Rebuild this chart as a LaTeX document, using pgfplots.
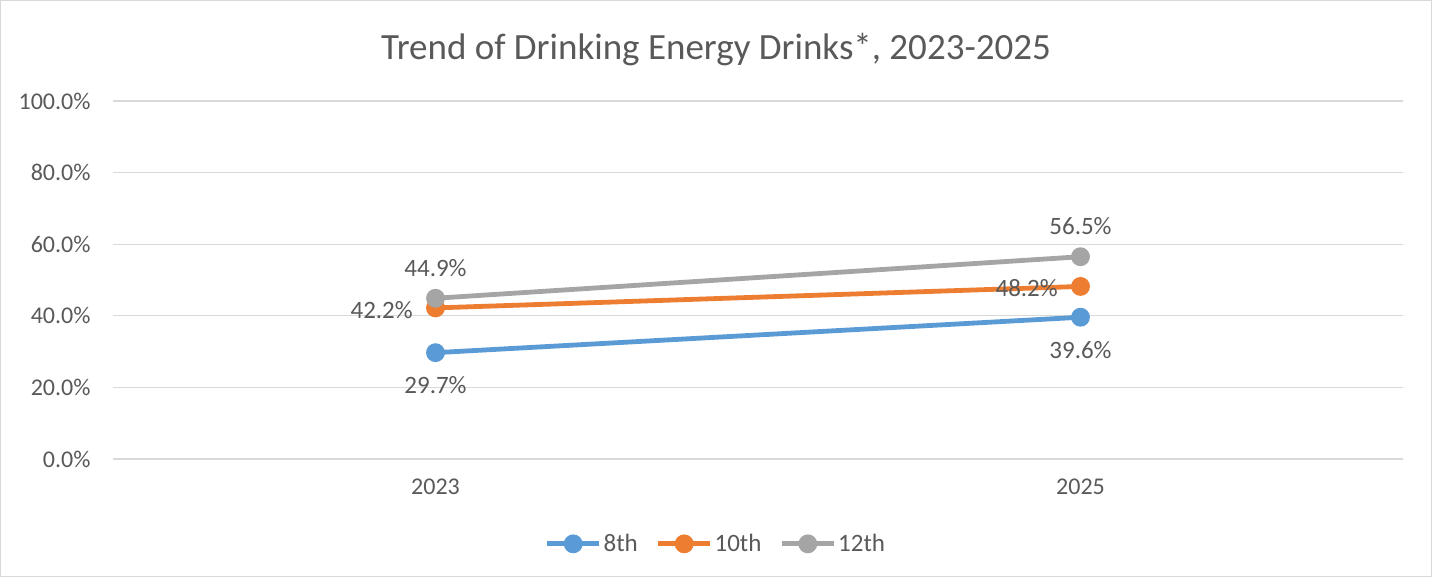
\documentclass[border=0pt]{standalone}
\usepackage{pgfplots}
\pgfplotsset{compat=1.18}
\usepackage{fontspec}
\setmainfont{Carlito}
\definecolor{cblue}{HTML}{5B9BD5}
\definecolor{corange}{HTML}{ED7D31}
\definecolor{cgray}{HTML}{A5A5A5}
\definecolor{ctext}{HTML}{595959}
\definecolor{cgrid}{HTML}{D9D9D9}
\begin{document}
\begin{tikzpicture}
\path[use as bounding box] (0bp,0bp) rectangle (1432bp,577bp);
\draw[cgrid, line width=1.2bp] (0.6bp,0.6bp) rectangle (1431.4bp,576.4bp);
\begin{axis}[
  at={(113bp,118bp)}, anchor=south west,
  scale only axis, width=1290bp, height=358bp,
  xmin=-0.5, xmax=1.5, ymin=0, ymax=100,
  xtick={0,1}, xticklabels={2023,2025},
  ytick={0,20,40,60,80,100},
  yticklabels={0.0\%,20.0\%,40.0\%,60.0\%,80.0\%,100.0\%},
  axis line style={draw=none},
  major tick length=0pt,
  ymajorgrids, grid style={cgrid, line width=1.2bp},
  tick label style={font=\fontsize{24bp}{28bp}\selectfont, text=ctext},
  xticklabel style={yshift=-16bp},
  yticklabel style={xshift=-19bp},
  /pgf/number format/assume math mode=true,
  title={Trend of Drinking Energy Drinks*, 2023-2025},
  title style={at={(axis description cs:0.4674,1.128)}, anchor=center, font=\fontsize{37bp}{42bp}\selectfont, text=ctext},
  legend columns=3,
  legend style={at={(axis description cs:0.4674,-0.237)}, anchor=center, draw=none, fill=none,
    font=\fontsize{25bp}{29bp}\selectfont, text=ctext,
    /tikz/every even column/.append style={column sep=16bp}},
  legend image code/.code={\draw[#1,mark=none] (0bp,0bp) -- (52bp,0bp); \fill[#1] (26bp,0bp) circle (7bp);},
  every axis plot/.append style={line width=4.8bp, mark=*, mark size=7bp},
  nodes near coords={\pgfmathprintnumber[fixed,fixed zerofill,precision=1]{\pgfplotspointmeta}\%},
  every node near coord/.append style={font=\fontsize{25bp}{29bp}\selectfont, text=ctext},
  clip=false,
]
\addplot[color=cblue, every node near coord/.append style={anchor=north, yshift=-18bp}] coordinates {(0,29.7) (1,39.6)};
\addlegendentry{8th}
\addplot[color=corange, every node near coord/.append style={anchor=east, xshift=-17bp, yshift=-2bp}] coordinates {(0,42.2) (1,48.2)};
\addlegendentry{10th}
\addplot[color=cgray, every node near coord/.append style={anchor=south, yshift=16bp}] coordinates {(0,44.9) (1,56.5)};
\addlegendentry{12th}
\end{axis}
\end{tikzpicture}
\end{document}
